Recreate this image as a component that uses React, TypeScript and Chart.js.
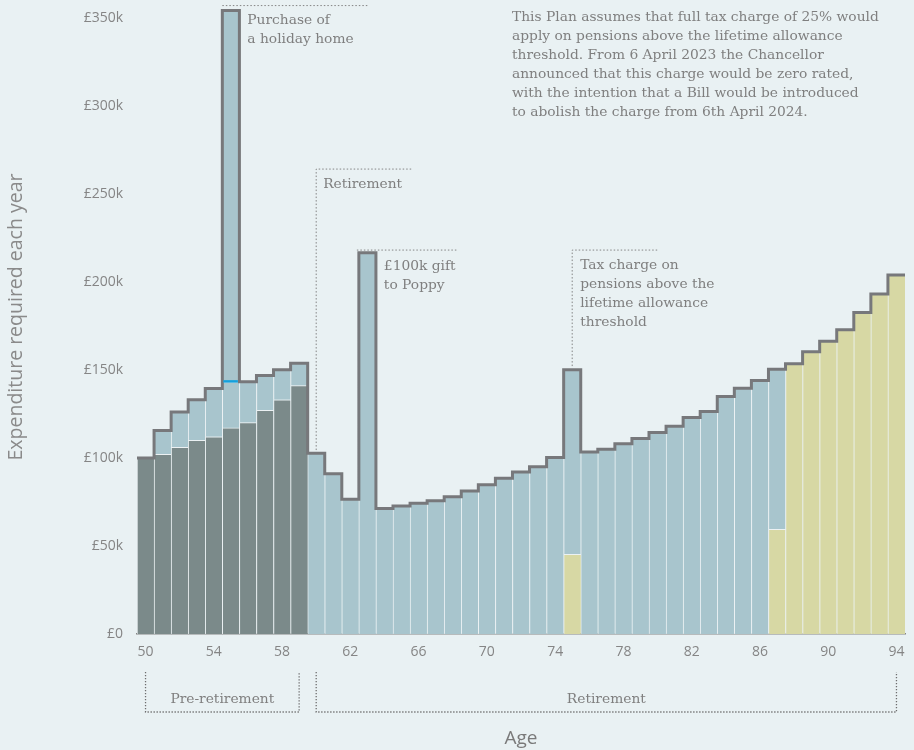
import React, { useEffect, useRef } from "react";
import { Chart, registerables } from "chart.js";

Chart.register(...registerables);

// ---------- data ----------
const AGES = [
  50, 51, 52, 53, 54, 55, 56, 57, 58, 59,
  60, 61, 62, 63, 64, 65, 66, 67, 68, 69,
  70, 71, 72, 73, 74, 75, 76, 77, 78, 79,
  80, 81, 82, 83, 84, 85, 86, 87, 88, 89,
  90, 91, 92, 93, 94,
];

// £k per year
const CORE_PRE_RETIREMENT = [
  100, 102, 106, 110, 112, 117, 120, 127, 133, 141,
  0, 0, 0, 0, 0, 0, 0, 0, 0, 0,
  0, 0, 0, 0, 0, 0, 0, 0, 0, 0,
  0, 0, 0, 0, 0, 0, 0, 0, 0, 0,
  0, 0, 0, 0, 0,
];

const TAX_CHARGE = [
  0, 0, 0, 0, 0, 0, 0, 0, 0, 0,
  0, 0, 0, 0, 0, 0, 0, 0, 0, 0,
  0, 0, 0, 0, 0, 45.3, 0, 0, 0, 0,
  0, 0, 0, 0, 0, 0, 0, 59.5, 153.4, 160.2,
  166.3, 172.7, 182.6, 193, 203.8,
];

const OTHER_SPENDING = [
  0, 13.5, 20, 23, 27.4, 26, 23.2, 19.8, 17, 12.8,
  102.7, 91, 76.5, 216.5, 71.2, 72.7, 74.2, 75.7, 78, 81.2,
  84.7, 88.4, 92, 95, 100.2, 104.7, 103.4, 104.9, 108, 111,
  114.4, 118, 123, 126.3, 134.8, 139.6, 144, 90.9, 0, 0,
  0, 0, 0, 0, 0,
];

const ONE_OFF = [
  0, 0, 0, 0, 0, 211, 0, 0, 0, 0,
  0, 0, 0, 0, 0, 0, 0, 0, 0, 0,
  0, 0, 0, 0, 0, 0, 0, 0, 0, 0,
  0, 0, 0, 0, 0, 0, 0, 0, 0, 0,
  0, 0, 0, 0, 0,
];

const X_TICK_LABELS = [50, 54, 58, 62, 66, 70, 74, 78, 82, 86, 90, 94];
const Y_TICKS = [0, 50, 100, 150, 200, 250, 300, 350];

const NOTE_LINES = [
  "This Plan assumes that full tax charge of 25% would",
  "apply on pensions above the lifetime allowance",
  "threshold. From 6 April 2023 the Chancellor",
  "announced that this charge would be zero rated,",
  "with the intention that a Bill would be introduced",
  "to abolish the charge from 6th April 2024.",
];

// ---------- styles ----------
const BG = "#e9f1f3";
const DARK = "#7b8a8a";
const LIGHT = "#a8c5cd";
const YELLOW = "#d7d8a4";
const OUTLINE = "#77787b";
const MARK_BLUE = "#14a0dc";
const SEP = "rgba(236,242,244,0.9)";
const TEXT = "#7f7f7f";
const SERIF = "'DejaVu Serif', serif";
const SANS = "'Open Sans', sans-serif";

const nz = (arr: number[]) => arr.map((v) => (v ? v : null));

const totals = AGES.map(
  (_, i) => CORE_PRE_RETIREMENT[i] + OTHER_SPENDING[i] + ONE_OFF[i] + TAX_CHARGE[i]
);
const outlinePoints = AGES.map((a, i) => ({ x: a - 0.5, y: totals[i] }));
outlinePoints.push({ x: AGES[AGES.length - 1] + 0.5, y: totals[totals.length - 1] });

const ONE_OFF_INDEX = 4;

const annotationPlugin = {
  id: "annotations",
  afterDatasetsDraw(chart: any) {
    const { ctx } = chart;
    const xl = chart.scales.xLine;
    const y = chart.scales.y;
    const px = (a: number) => xl.getPixelForValue(a);
    const py = (v: number) => y.getPixelForValue(v);
    const idx = (a: number) => AGES.indexOf(a);

    ctx.save();

    // blue marker at base of one-off spend
    const meta = chart.getDatasetMeta(ONE_OFF_INDEX);
    meta.data.forEach((el: any, i: number) => {
      if (!ONE_OFF[i]) return;
      const p = el.getProps(["x", "width", "base"], true);
      ctx.fillStyle = MARK_BLUE;
      ctx.fillRect(p.x - p.width / 2 + 1, p.base - 2, p.width - 2.5, 2.5);
    });

    const dotted = (pts: number[][], dash = [1.5, 2], color = "#858585", lw = 1) => {
      ctx.beginPath();
      ctx.setLineDash(dash);
      ctx.lineWidth = lw;
      ctx.strokeStyle = color;
      ctx.moveTo(pts[0][0], pts[0][1]);
      for (let k = 1; k < pts.length; k++) ctx.lineTo(pts[k][0], pts[k][1]);
      ctx.stroke();
      ctx.setLineDash([]);
    };
    const text = (lines: string[], x: number, y0: number, align = "left") => {
      ctx.font = `13.8px ${SERIF}`;
      ctx.fillStyle = TEXT;
      ctx.textAlign = align;
      ctx.textBaseline = "middle";
      lines.forEach((l, k) => ctx.fillText(l, x, y0 + k * 19));
    };

    // Purchase of a holiday home
    const h55 = py(totals[idx(55)]) - 5;
    dotted([[px(54.5), h55], [px(63), h55]]);
    text(["Purchase of", "a holiday home"], px(54.5) + 25, h55 + 15);

    // Retirement
    const rY = py(264);
    dotted([[px(60) + 95, rY], [px(60), rY], [px(60), py(totals[idx(60)]) - 3]]);
    text(["Retirement"], px(60) + 7, rY + 15);

    // Gift
    const gY = py(218);
    dotted([[px(62.5) - 2, gY], [px(68.25), gY]]);
    text(["£100k gift", "to Poppy"], px(62.5) + 25, gY + 16);

    // Tax charge
    dotted([[px(75) + 85, gY], [px(75), gY], [px(75), py(totals[idx(75)]) - 2]]);
    text(
      ["Tax charge on", "pensions above the", "lifetime allowance", "threshold"],
      px(75) + 8,
      gY + 15
    );

    // note
    text(NOTE_LINES, 512, 17);

    // bottom brackets
    const bTop = 672;
    const bBot = 712;
    const bracket = (a0: number, a1: number, label: string) => {
      const x0 = px(a0);
      const x1 = px(a1);
      dotted([[x0, bTop], [x0, bBot], [x1, bBot], [x1, bTop]], [1.3, 1.7], "#6e6e6e", 1.3);
      text([label], (x0 + x1) / 2, 699, "center");
    };
    bracket(50, 59, "Pre-retirement");
    bracket(60, 94, "Retirement");

    ctx.restore();
  },
};

export default function App() {
  const ref = useRef<HTMLCanvasElement | null>(null);

  useEffect(() => {
    document.body.style.margin = "0";
    document.body.style.background = BG;
    if (!ref.current) return;
    const barCommon = {
      type: "bar" as const,
      barPercentage: 1,
      categoryPercentage: 1,
      grouped: false,
      borderWidth: { left: 1, top: 1, right: 0, bottom: 0 },
      borderSkipped: false,
      borderColor: SEP,
      stack: "spend",
    };
    const chart = new Chart(ref.current, {
      type: "bar",
      data: {
        labels: AGES.map(String),
        datasets: [
          {
            type: "line",
            label: "Total",
            data: outlinePoints as any,
            xAxisID: "xLine",
            stepped: "before",
            borderColor: OUTLINE,
            borderWidth: 3,
            pointRadius: 0,
            fill: false,
            borderJoinStyle: "miter",
            stack: "outline",
            order: -1,
          } as any,
          { ...barCommon, label: "Core pre-retirement", data: nz(CORE_PRE_RETIREMENT), backgroundColor: DARK },
          { ...barCommon, label: "Tax charge", data: nz(TAX_CHARGE), backgroundColor: YELLOW },
          { ...barCommon, label: "Other spending", data: nz(OTHER_SPENDING), backgroundColor: LIGHT },
          { ...barCommon, label: "One-off", data: nz(ONE_OFF), backgroundColor: LIGHT },
        ] as any,
      },
      options: {
        animation: false,
        responsive: true,
        maintainAspectRatio: false,
        layout: { padding: { left: 0, right: 9, top: 0, bottom: 0 } },
        plugins: { legend: { display: false }, tooltip: { enabled: false } },
        scales: {
          x: {
            type: "category",
            stacked: true,
            offset: true,
            grid: { display: false, drawTicks: false },
            border: { display: true, color: "#858585", width: 1.5 },
            ticks: {
              autoSkip: false,
              maxRotation: 0,
              padding: 10,
              color: "#858585",
              font: { family: SANS, size: 14 },
              callback: (_v: any, i: number) =>
                X_TICK_LABELS.includes(AGES[i]) ? String(AGES[i]) : "",
            },
            title: {
              display: true,
              text: "Age",
              color: "#7a7a7a",
              font: { family: SANS, size: 19 },
              padding: { top: 0, bottom: 0 },
            },
            afterFit: (axis: any) => {
              axis.height = 116;
              axis.paddingLeft = 0;
              axis.paddingRight = 0;
            },
          },
          xLine: {
            type: "linear",
            display: false,
            offset: false,
            grid: { offset: false },
            min: AGES[0] - 0.5,
            max: AGES[AGES.length - 1] + 0.5,
          },
          y: {
            stacked: true,
            min: 0,
            max: 360,
            grid: { display: false, drawTicks: false },
            border: { display: false },
            afterBuildTicks: (axis: any) => {
              axis.ticks = Y_TICKS.map((value) => ({ value }));
            },
            ticks: {
              padding: 14,
              color: "#858585",
              font: { family: SANS, size: 14 },
              callback: (v: any) => (v === 0 ? "£0" : `£${v}k`),
            },
            title: {
              display: true,
              text: "Expenditure required each year",
              color: "#8a8a8a",
              font: { family: SANS, size: 19.5 },
              padding: { top: 5, bottom: 0 },
            },
            afterFit: (axis: any) => {
              axis.width = 137;
              axis.paddingTop = 0;
              axis.paddingBottom = 0;
            },
          },
        },
      } as any,
      plugins: [annotationPlugin as any],
    });
    return () => chart.destroy();
  }, []);

  return (
    <div style={{ width: 914, height: 750, position: "relative", background: BG }}>
      <canvas ref={ref} />
    </div>
  );
}
